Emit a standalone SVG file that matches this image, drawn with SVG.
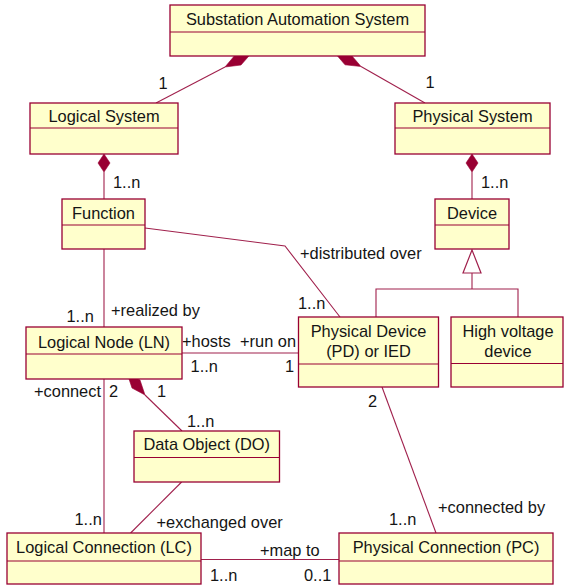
<svg xmlns="http://www.w3.org/2000/svg" width="564" height="585" viewBox="0 0 564 585">
  <style>
    .box { fill: #FFFFCC; stroke: #990033; stroke-width: 1.3; }
    .div { stroke: #990033; stroke-width: 1.2; fill: none; }
    .ln { stroke: #A0204C; stroke-width: 1.1; fill: none; }
    .dia { fill: #990033; stroke: #990033; stroke-width: 0.6; }
    .gen { fill: #FFFFFF; stroke: #A0204C; stroke-width: 1.2; }
    text { font-family: "Liberation Sans", Arial, Helvetica, sans-serif; font-size: 16.4px; fill: #151515; }
    .t { text-anchor: middle; }
  </style>
  <rect width="564" height="585" fill="#FFFFFF"/>

  <!-- associations, compositions and generalization -->
  <g id="connectors">
    <!-- composition: SAS owns Logical System -->
    <polygon class="dia" points="225,67 241,65 251.5,53 235.5,54.5"/>
    <line class="ln" x1="225" y1="67" x2="156" y2="103"/>
    <!-- composition: SAS owns Physical System -->
    <polygon class="dia" points="361,66.5 345,64.8 334.5,52.5 350.5,54.2"/>
    <line class="ln" x1="361" y1="66.5" x2="425" y2="103"/>
    <!-- Logical System owns Function -->
    <polygon class="dia" points="104,154 110,163 104,172 98,163"/>
    <line class="ln" x1="104" y1="172" x2="104" y2="199"/>
    <!-- Physical System owns Device -->
    <polygon class="dia" points="472,154 478,163 472,172 466,163"/>
    <line class="ln" x1="472" y1="172" x2="472" y2="199"/>
    <!-- Function distributed over Physical Device -->
    <polyline class="ln" points="145,228 285,246 340,317"/>
    <!-- Function realized by Logical Node -->
    <line class="ln" x1="104" y1="249" x2="104" y2="327"/>
    <!-- Device generalization -->
    <polyline class="ln" points="376,317 376,289 518,289 518,317"/>
    <line class="ln" x1="472" y1="289" x2="472" y2="273"/>
    <polygon class="gen" points="472,250 481,273 463,273"/>
    <!-- LN hosted on PD -->
    <line class="ln" x1="182" y1="353" x2="298.5" y2="353"/>
    <!-- LN owns Data Object -->
    <polygon class="dia" points="145,395 140,380 127,373 132,388"/>
    <line class="ln" x1="145" y1="395" x2="182" y2="431"/>
    <!-- LN connect LC -->
    <line class="ln" x1="104" y1="379" x2="104" y2="533"/>
    <!-- DO exchanged over LC -->
    <line class="ln" x1="181.6" y1="482" x2="130.6" y2="533"/>
    <!-- PD connected by PC -->
    <line class="ln" x1="382" y1="387" x2="436" y2="533"/>
    <!-- LC map to PC -->
    <line class="ln" x1="201" y1="559.5" x2="339" y2="559.5"/>
  </g>

  <g id="sas">
    <rect class="box" x="170" y="5" width="255" height="51"/>
    <line class="div" x1="170" y1="32" x2="425" y2="32"/>
    <text class="t" x="297.5" y="25">Substation Automation System</text>
  </g>
  <g id="logical-system">
    <rect class="box" x="30" y="103" width="148" height="51"/>
    <line class="div" x1="30" y1="128" x2="178" y2="128"/>
    <text class="t" x="104" y="122">Logical System</text>
  </g>
  <g id="physical-system">
    <rect class="box" x="395" y="103" width="155" height="51"/>
    <line class="div" x1="395" y1="128" x2="550" y2="128"/>
    <text class="t" x="472.5" y="122">Physical System</text>
  </g>
  <g id="function">
    <rect class="box" x="62" y="199" width="83" height="50"/>
    <line class="div" x1="62" y1="225" x2="145" y2="225"/>
    <text class="t" x="103.5" y="219">Function</text>
  </g>
  <g id="device">
    <rect class="box" x="435" y="199" width="74" height="50"/>
    <line class="div" x1="435" y1="225" x2="509" y2="225"/>
    <text class="t" x="472" y="219">Device</text>
  </g>
  <g id="logical-node">
    <rect class="box" x="26" y="327" width="156" height="52"/>
    <line class="div" x1="26" y1="354" x2="182" y2="354"/>
    <text class="t" x="104" y="347.5">Logical Node (LN)</text>
  </g>
  <g id="physical-device">
    <rect class="box" x="298.5" y="317" width="140" height="70"/>
    <line class="div" x1="298.5" y1="364" x2="438.5" y2="364"/>
    <text class="t" x="368.5" y="337">Physical Device</text>
    <text class="t" x="368.5" y="357">(PD) or IED</text>
  </g>
  <g id="high-voltage-device">
    <rect class="box" x="451" y="317" width="112" height="70"/>
    <line class="div" x1="451" y1="363.5" x2="563" y2="363.5"/>
    <text class="t" x="508" y="337">High voltage</text>
    <text class="t" x="508" y="357">device</text>
  </g>
  <g id="data-object">
    <rect class="box" x="134" y="431" width="145.5" height="51"/>
    <line class="div" x1="134" y1="457.5" x2="279.5" y2="457.5"/>
    <text class="t" x="206.7" y="450">Data Object (DO)</text>
  </g>
  <g id="logical-connection">
    <rect class="box" x="7" y="533" width="194" height="51"/>
    <line class="div" x1="7" y1="561" x2="201" y2="561"/>
    <text class="t" x="104" y="553">Logical Connection (LC)</text>
  </g>
  <g id="physical-connection">
    <rect class="box" x="339" y="533" width="214" height="51"/>
    <line class="div" x1="339" y1="561" x2="553" y2="561"/>
    <text class="t" x="446" y="553">Physical Connection (PC)</text>
  </g>

  <!-- roles and multiplicities -->
  <g id="labels">
    <text class="t" x="163" y="89">1</text>
    <text class="t" x="430" y="88">1</text>
    <text x="113" y="188">1..n</text>
    <text x="481" y="188">1..n</text>
    <text x="300" y="259">+distributed over</text>
    <text x="66.5" y="322">1..n</text>
    <text x="111" y="316">+realized by</text>
    <text x="298" y="309">1..n</text>
    <text x="182" y="347">+hosts</text>
    <text x="240" y="347">+run on</text>
    <text x="190.6" y="372">1..n</text>
    <text x="285" y="372">1</text>
    <text x="34" y="397">+connect</text>
    <text x="109" y="397">2</text>
    <text x="157" y="397">1</text>
    <text x="187" y="427">1..n</text>
    <text x="368" y="406.5">2</text>
    <text x="438" y="513">+connected by</text>
    <text x="74.5" y="525">1..n</text>
    <text x="156.5" y="527.5">+exchanged over</text>
    <text x="389" y="525">1..n</text>
    <text x="260" y="555.5">+map to</text>
    <text x="210" y="581">1..n</text>
    <text x="304" y="581">0..1</text>
  </g>
</svg>
